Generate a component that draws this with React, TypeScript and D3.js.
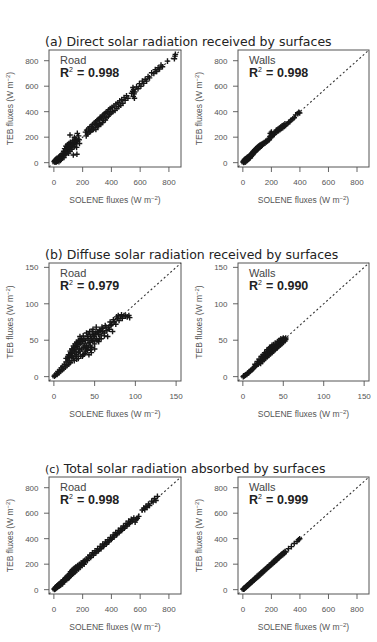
import React from "react";
import * as d3 from "d3";

const WIDTH = 377;
const HEIGHT = 642;

// Section headings: label and description
const sectionLabels = ["(a)", "(b)", "(c)"];
const sectionTitles = [
  "Direct solar radiation received by surfaces",
  "Diffuse solar radiation received by surfaces",
  "Total solar radiation absorbed by surfaces",
];
const surfaceNames = ["Road", "Walls"];
const r2Values = [
  ["0.998", "0.998"],
  ["0.979", "0.990"],
  ["0.998", "0.999"],
];

const fluxTicks = [0, 200, 400, 600, 800];
const diffuseTicks = [0, 50, 100, 150];
const fluxExtent: [number, number] = [0, 850];
const diffuseExtent: [number, number] = [0, 150];

// [SOLENE, TEB] pairs, W m-2
const directRoad: [number, number][] = [
  [2, 8], [5, 15], [8, 3], [10, 22], [12, 10], [15, 28], [18, 5], [20, 18], [22, 35], [25, 12],
  [28, 30], [30, 20], [33, 42], [35, 8], [38, 25], [40, 50], [42, 33], [45, 18], [48, 40], [50, 60],
  [52, 28], [55, 45], [58, 70], [60, 38], [65, 55], [68, 90], [70, 40], [72, 75], [75, 110], [78, 60],
  [80, 95], [83, 130], [85, 70], [88, 105], [90, 120], [93, 85], [95, 140], [98, 100], [100, 125], [103, 75],
  [105, 150], [108, 110], [110, 130], [112, 217], [112, 90], [115, 160], [118, 120], [120, 140], [125, 105], [128, 150],
  [130, 170], [133, 125], [135, 60], [138, 145], [140, 175], [143, 200], [145, 130], [148, 160], [150, 185], [155, 150],
  [158, 120], [160, 66], [160, 175], [163, 230], [165, 165], [170, 185], [175, 180], [178, 150], [172, 210],
  [220, 240], [225, 210], [228, 255], [235, 225], [240, 265], [245, 240], [250, 280], [255, 245], [260, 285], [265, 255],
  [270, 300], [275, 260], [280, 310], [285, 275], [290, 320], [292, 260], [296, 300], [300, 330], [305, 285], [308, 335],
  [312, 290], [315, 345], [318, 305], [322, 355], [325, 300], [330, 350], [335, 365], [338, 315], [342, 375], [345, 330],
  [350, 365], [355, 385], [358, 335], [362, 395], [368, 355], [372, 400], [378, 365], [382, 415], [388, 380], [392, 425],
  [398, 390], [405, 435], [410, 400], [418, 445], [425, 410], [432, 460], [438, 425], [445, 470], [450, 440], [458, 485],
  [465, 450], [472, 495], [480, 465], [488, 510], [495, 490], [505, 525], [515, 505], [540, 545], [548, 560], [550, 590],
  [552, 520], [555, 575], [558, 540], [562, 555], [560, 505], [575, 595], [585, 580], [595, 620], [605, 600], [615, 640],
  [625, 622], [635, 655], [645, 640], [655, 675], [665, 665], [680, 705], [695, 700], [705, 730], [715, 715], [725, 745],
  [735, 735], [745, 765], [755, 752], [790, 797], [838, 815], [842, 836], [845, 850],
];

const directWalls: [number, number][] = [
  [2, 5], [4, 12], [6, 2], [8, 18], [10, 8], [12, 25], [14, 14], [16, 4], [18, 30], [20, 20],
  [22, 10], [24, 35], [26, 26], [28, 15], [30, 40], [32, 30], [34, 22], [36, 45], [38, 34], [40, 28],
  [42, 50], [44, 40], [46, 35], [48, 58], [50, 45], [52, 38], [55, 62], [58, 50], [60, 68], [62, 55],
  [65, 75], [68, 62], [70, 85], [72, 70], [75, 90], [78, 78], [80, 95], [82, 82], [85, 102], [88, 88],
  [90, 108], [92, 95], [95, 112], [98, 100], [100, 118], [102, 105], [105, 122], [108, 110], [110, 128], [112, 115],
  [115, 132], [118, 120], [120, 138], [122, 125], [125, 135], [128, 142], [130, 130], [133, 145], [136, 138], [140, 150],
  [145, 148], [150, 158], [155, 152], [160, 168], [165, 162], [170, 175], [175, 172], [180, 185], [185, 180], [190, 205],
  [192, 230], [195, 195], [198, 215], [200, 240], [203, 205], [206, 225], [210, 215], [215, 230], [220, 222], [225, 240],
  [230, 235], [235, 255], [240, 245], [245, 262], [250, 250], [255, 270], [260, 258], [265, 280], [270, 268], [275, 290],
  [280, 275], [285, 295], [290, 285], [295, 305], [300, 292], [310, 305], [320, 315], [330, 322], [338, 335], [350, 345],
  [360, 352], [370, 375], [385, 385], [392, 395], [398, 390],
];

const diffuseRoad: [number, number][] = [
  [0.5, 0.5], [1, 2], [2, 1.5], [3, 4], [4, 3], [5, 7], [6, 5], [7, 9], [8, 7], [9, 12],
  [10, 9], [11, 14], [12, 11], [13, 17], [14, 13], [15, 20], [16, 15], [17, 23], [18, 17], [19, 26],
  [20, 19], [21, 29], [22, 22], [23, 32], [24, 25], [25, 35], [26, 28], [27, 38], [28, 30], [29, 41],
  [30, 33], [31, 44], [32, 35], [33, 46], [34, 38], [35, 48], [36, 40], [37, 45], [38, 32], [39, 50],
  [40, 42], [41, 36], [42, 52], [43, 30], [44, 47], [45, 55], [46, 33], [47, 50], [48, 58], [50, 45],
  [51, 60], [52, 52], [54, 62], [55, 48], [56, 64], [58, 57], [60, 66], [62, 60], [64, 68], [66, 55],
  [68, 65], [70, 70], [72, 62], [74, 75], [76, 72], [78, 80], [80, 77], [82, 82], [84, 80], [86, 84],
  [88, 83], [90, 82], [92, 84], [93, 81], [18, 30], [20, 35], [22, 38], [24, 42], [26, 45], [28, 47],
  [30, 50], [32, 55], [34, 52], [36, 56], [40, 60], [44, 62], [48, 65], [52, 68], [46, 40], [50, 38],
  [35, 28], [30, 25], [25, 22], [40, 38], [45, 42], [55, 58], [60, 62], [65, 63], [62, 56], [58, 52],
  [15, 25], [17, 27], [19, 30], [21, 33], [23, 36], [25, 40], [27, 43], [29, 46], [31, 48], [33, 50],
  [37, 52], [41, 55], [43, 58], [47, 62], [49, 56], [53, 60], [57, 63], [59, 68], [63, 70], [67, 68],
  [69, 75], [71, 72], [73, 78], [77, 82], [79, 84], [83, 85], [36, 30], [39, 35], [42, 40], [48, 48],
  [53, 50], [56, 52], [45, 37], [33, 28], [28, 24], [38, 42], [42, 46], [46, 52], [50, 55], [31, 38],
  [27, 34], [23, 28], [19, 22],
];

const diffuseWalls: [number, number][] = [
  [0.5, 0], [1, 1], [2, 1], [3, 2], [4, 3], [5, 3], [6, 5], [7, 5], [8, 7], [9, 7],
  [10, 9], [11, 9], [12, 11], [13, 11], [14, 13], [15, 14], [16, 15], [17, 16], [18, 18], [19, 17],
  [20, 20], [21, 19], [22, 23], [22, 18], [23, 22], [24, 26], [24, 21], [25, 24], [26, 28], [26, 23],
  [27, 26], [28, 31], [28, 25], [29, 28], [30, 33], [30, 27], [31, 30], [32, 35], [32, 29], [33, 32],
  [34, 37], [34, 31], [35, 34], [36, 39], [36, 33], [37, 36], [38, 41], [38, 35], [39, 38], [40, 42],
  [40, 37], [41, 40], [42, 44], [42, 39], [43, 42], [44, 46], [44, 41], [45, 44], [46, 48], [46, 43],
  [47, 46], [48, 50], [48, 45], [49, 48], [50, 52], [50, 47], [51, 50], [52, 52], [53, 51], [45, 50],
  [47, 52], [50, 53], [52, 49], [53, 53], [49, 51], [20, 24], [23, 28], [27, 33], [30, 37], [33, 40],
  [35, 41], [38, 44], [25, 30], [18, 21], [15, 17], [36, 43], [40, 46], [43, 48], [32, 38], [29, 34],
];

const totalRoad: [number, number][] = [
  [2, 6], [4, 2], [6, 12], [9, 5], [11, 18], [13, 9], [16, 22], [19, 14], [21, 30], [24, 20],
  [26, 28], [29, 38], [31, 25], [34, 33], [37, 46], [39, 30], [42, 50], [44, 41], [47, 36], [50, 58],
  [52, 47], [55, 62], [57, 52], [60, 45], [63, 72], [66, 60], [68, 78], [71, 66], [74, 70], [77, 88],
  [80, 74], [83, 95], [86, 82], [89, 78], [92, 105], [95, 92], [98, 88], [101, 115], [104, 100], [107, 96],
  [110, 125], [113, 108], [116, 140], [119, 115], [122, 130], [125, 150], [128, 122], [131, 138], [134, 160], [137, 128],
  [140, 145], [143, 170], [146, 138], [150, 158], [154, 180], [158, 150], [162, 168], [166, 190], [170, 162], [174, 182],
  [178, 200], [182, 175], [186, 192], [190, 210], [195, 188], [200, 205], [205, 222], [210, 200], [215, 230], [220, 218],
  [226, 240], [232, 228], [238, 255], [244, 246], [250, 270], [256, 252], [262, 268], [268, 290], [274, 270], [280, 285],
  [286, 305], [292, 288], [298, 300], [304, 322], [310, 305], [316, 318], [322, 340], [328, 322], [334, 335], [340, 358],
  [346, 340], [352, 352], [358, 375], [364, 356], [370, 368], [376, 392], [382, 375], [388, 388], [394, 410], [400, 395],
  [406, 405], [412, 430], [418, 412], [424, 425], [430, 448], [436, 430], [442, 440], [448, 465], [454, 448], [460, 458],
  [466, 482], [472, 465], [478, 475], [484, 500], [490, 482], [496, 495], [502, 520], [508, 500], [514, 512], [520, 538],
  [526, 518], [532, 530], [538, 552], [544, 535], [550, 548], [556, 562], [565, 530], [572, 548], [580, 560], [590, 575],
  [615, 625], [625, 640], [632, 628], [640, 655], [648, 645], [658, 672], [665, 660], [680, 695], [690, 688], [700, 715],
  [710, 700], [720, 732],
];

const totalWalls: [number, number][] = [
  [2, 3], [4, 6], [6, 4], [8, 10], [10, 8], [12, 14], [15, 12], [18, 20], [20, 17], [22, 25],
  [25, 22], [28, 30], [30, 27], [33, 36], [36, 33], [40, 42], [42, 38], [45, 48], [48, 44], [50, 53],
  [53, 50], [56, 59], [60, 56], [63, 66], [66, 62], [70, 74], [73, 70], [76, 80], [80, 76], [84, 88],
  [88, 84], [92, 96], [96, 92], [100, 105], [104, 99], [108, 112], [112, 108], [116, 121], [120, 115], [125, 130],
  [130, 125], [135, 140], [140, 135], [145, 150], [150, 146], [155, 160], [160, 156], [165, 170], [170, 166], [175, 180],
  [180, 176], [185, 191], [190, 186], [195, 200], [200, 196], [205, 212], [210, 205], [215, 222], [220, 215], [225, 232],
  [230, 225], [235, 242], [240, 235], [245, 252], [250, 246], [255, 262], [260, 256], [265, 272], [270, 266], [275, 282],
  [280, 274], [285, 292], [290, 284], [295, 300], [300, 295], [320, 322], [340, 338], [360, 362], [380, 378], [390, 392],
  [398, 400],
];

const panelData = [
  [directRoad, directWalls],
  [diffuseRoad, diffuseWalls],
  [totalRoad, totalWalls],
];
const panelTicks = [fluxTicks, diffuseTicks, fluxTicks];
const panelExtents = [fluxExtent, diffuseExtent, fluxExtent];

// Plot regions
const colBounds = [
  [49, 181],
  [238, 369],
];
const rowBounds = [
  [50, 167],
  [263, 381],
  [477, 594],
];

const tickFont = "'Liberation Sans', Arial, sans-serif";
const titleFont = "'DejaVu Sans', sans-serif";
const crossPath = "M-2.8,0H2.8M0,-2.8V2.8";

// R-style axis padding: 4% on each side of the data range
function padded([lo, hi]: [number, number]): [number, number] {
  const d = (hi - lo) * 0.04;
  return [lo - d, hi + d];
}

function Panel({ row, col }: { row: number; col: number }) {
  const [x0, x1] = colBounds[col];
  const [y0, y1] = rowBounds[row];
  const domain = padded(panelExtents[row]);
  const x = d3.scaleLinear().domain(domain).range([x0, x1]);
  const y = d3.scaleLinear().domain(domain).range([y1, y0]);
  const ticks = panelTicks[row];
  const data = panelData[row][col];
  const cx = (x0 + x1) / 2;
  const cy = (y0 + y1) / 2;
  const ylabX = x0 - 36;
  const tickColor = "#555";

  return (
    <g>
      {/* 1:1 reference line */}
      <line
        x1={x(domain[0])}
        y1={y(domain[0])}
        x2={x(domain[1])}
        y2={y(domain[1])}
        stroke="#333"
        strokeWidth={1.1}
        strokeDasharray="2,2.4"
      />
      {data.map(([a, b], i) => (
        <path
          key={i}
          d={crossPath}
          transform={`translate(${x(a)},${y(b)})`}
          stroke="#161616"
          strokeWidth={1.4}
          fill="none"
        />
      ))}
      <rect x={x0} y={y0} width={x1 - x0} height={y1 - y0} fill="none" stroke="#555" strokeWidth={1} />

      {/* bottom axis */}
      {ticks.map((t) => (
        <g key={"x" + t}>
          <line x1={x(t)} x2={x(t)} y1={y1} y2={y1 + 5} stroke={tickColor} strokeWidth={0.9} />
          <text
            x={x(t)}
            y={y1 + 17.5}
            textAnchor="middle"
            fontFamily={tickFont}
            fontSize={8}
            fill="#555"
          >
            {t}
          </text>
        </g>
      ))}
      {/* left axis */}
      {ticks.map((t) => (
        <g key={"y" + t}>
          <line x1={x0 - 5} x2={x0} y1={y(t)} y2={y(t)} stroke={tickColor} strokeWidth={0.9} />
          <text
            x={x0 - 10.5}
            y={y(t) + 2.9}
            textAnchor="end"
            fontFamily={tickFont}
            fontSize={8}
            fill="#555"
          >
            {t}
          </text>
        </g>
      ))}

      <text x={cx} y={y1 + 36} textAnchor="middle" fontFamily={tickFont} fontSize={8.5} fill="#555">
        SOLENE fluxes (W m
        <tspan dy={-3.5} fontSize={6}>
          −2
        </tspan>
        <tspan dy={3.5}>)</tspan>
      </text>
      <text
        transform={`translate(${ylabX},${cy}) rotate(-90)`}
        textAnchor="middle"
        fontFamily={tickFont}
        fontSize={8.5}
        fill="#555"
      >
        TEB fluxes (W m
        <tspan dy={-3.5} fontSize={6}>
          −2
        </tspan>
        <tspan dy={3.5}>)</tspan>
      </text>

      <text x={x0 + 11} y={y0 + 14} fontFamily={tickFont} fontSize={11} fill="#444">
        {surfaceNames[col]}
      </text>
      <g fontFamily={tickFont} fill="#222">
        <text x={x0 + 11} y={y0 + 27} fontSize={12.5} fontWeight="bold">
          R
        </text>
        <text x={x0 + 20} y={y0 + 22} fontSize={7}>
          2
        </text>
        <text x={x0 + 28} y={y0 + 27} fontSize={12.5} fontWeight="bold">
          =
        </text>
        <text x={x0 + 39} y={y0 + 27} fontSize={12.5} fontWeight="bold">
          {r2Values[row][col]}
        </text>
      </g>
    </g>
  );
}

export default function App() {
  return (
    <svg
      width={WIDTH}
      height={HEIGHT}
      viewBox={`0 0 ${WIDTH} ${HEIGHT}`}
      style={{ position: "absolute", left: 0, top: 0, background: "#fff" }}
    >
      <rect width={WIDTH} height={HEIGHT} fill="#fff" />
      {rowBounds.map(([top], row) => (
        <text key={"t" + row} x={45} y={top - 4.5} fontFamily={titleFont} fontSize={12.5} fill="#222">
          <tspan fontSize={row === 2 ? 11 : 12.5}>{sectionLabels[row]}</tspan> {sectionTitles[row]}
        </text>
      ))}
      {rowBounds.map((_, row) =>
        colBounds.map((__, col) => <Panel key={`${row}-${col}`} row={row} col={col} />)
      )}
    </svg>
  );
}
